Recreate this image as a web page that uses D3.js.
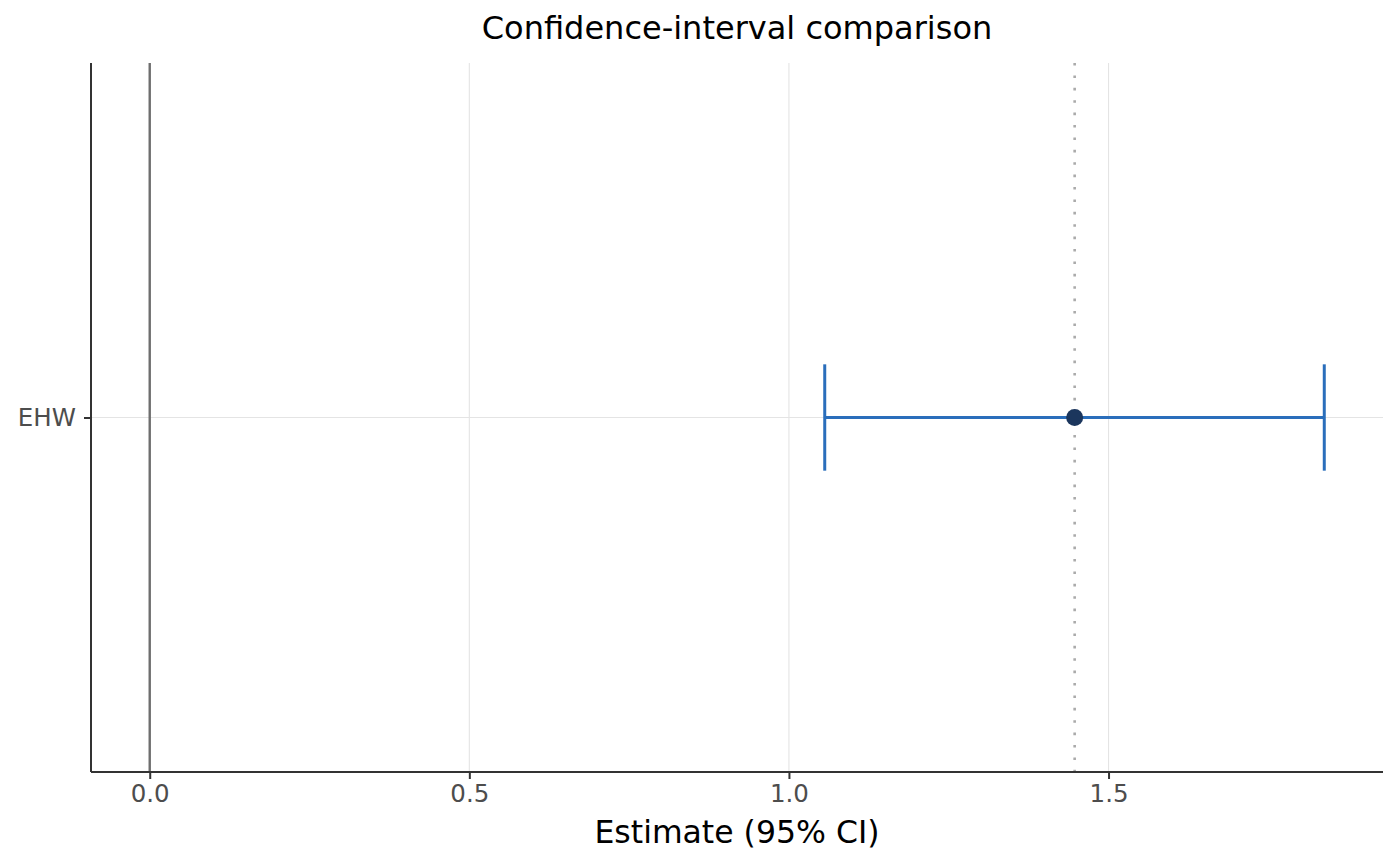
<!DOCTYPE html>
<html><head><meta charset="utf-8">
<script src="https://cdn.jsdelivr.net/npm/d3@7"></script>
<style>body{margin:0;background:#fff}text{font-family:"DejaVu Sans",sans-serif}</style>
</head><body><svg id="c" width="1400" height="866"></svg>
<script>
const methods = ["EHW"];
const estimates = [1.447];
const lower = [1.056];
const upper = [1.8375];
const refValue = 1.447;
const xTicks = [0, 0.5, 1.0, 1.5];
const titleText = "Confidence-interval comparison";
const xLabel = "Estimate (95% CI)";

const W = 1400, H = 866;
const m = {l:91, r:17, t:63, b:94};
const svg = d3.select("#c");
const lo = Math.min(0, d3.min(lower)), hi = Math.max(0, d3.max(upper));
const pad = (hi - lo) * 0.05;
const x = d3.scaleLinear().domain([lo - pad, hi + pad]).range([m.l, W - m.r]);
const y = d3.scalePoint().domain(methods).range([m.t, H - m.b]).padding(0.5);
const unit = (H - m.b - m.t) / (methods.length + 0.2);

svg.append("g").selectAll("line").data(xTicks).join("line")
  .attr("x1", d => x(d)).attr("x2", d => x(d)).attr("y1", m.t).attr("y2", H - m.b)
  .attr("stroke", "#e4e4e4").attr("stroke-width", 1.1);
svg.append("g").selectAll("line").data(methods).join("line")
  .attr("x1", m.l).attr("x2", W - m.r).attr("y1", d => y(d)).attr("y2", d => y(d))
  .attr("stroke", "#e4e4e4").attr("stroke-width", 1.1);

svg.append("line").attr("x1", x(0)).attr("x2", x(0)).attr("y1", m.t).attr("y2", H - m.b)
  .attr("stroke", "#6e6e6e").attr("stroke-width", 2.4);

svg.append("line").attr("x1", x(refValue)).attr("x2", x(refValue)).attr("y1", m.t).attr("y2", H - m.b)
  .attr("stroke", "#aaaaaa").attr("stroke-width", 2.6).attr("stroke-dasharray", "2.6 9.8");

const xAxis = d3.axisBottom(x).tickValues(xTicks).tickFormat(d3.format(".1f")).tickSize(7).tickPadding(6);
const gx = svg.append("g").attr("transform", `translate(0,${H - m.b})`).call(xAxis);
gx.select(".domain").attr("stroke", "#333").attr("stroke-width", 2).attr("d", `M${m.l},0H${W - m.r}`);
gx.selectAll(".tick line").attr("stroke", "#333").attr("stroke-width", 2);
gx.selectAll(".tick text").attr("fill", "#4d4d4d").attr("font-size", 24.5).attr("font-family", "DejaVu Sans");

const yAxis = d3.axisLeft(y).tickSize(7).tickPadding(8);
const gy = svg.append("g").attr("transform", `translate(${m.l},0)`).call(yAxis);
gy.select(".domain").attr("stroke", "#333").attr("stroke-width", 2).attr("d", `M0,${m.t}V${H - m.b}`);
gy.selectAll(".tick line").attr("stroke", "#333").attr("stroke-width", 2);
gy.selectAll(".tick text").attr("fill", "#4d4d4d").attr("font-size", 24.5).attr("font-family", "DejaVu Sans");

const half = unit * 0.09;
const g = svg.append("g");
methods.forEach((mth, i) => {
  const cy = y(mth);
  g.append("line").attr("x1", x(lower[i])).attr("x2", x(upper[i])).attr("y1", cy).attr("y2", cy)
    .attr("stroke", "#2a6ebb").attr("stroke-width", 3);
  [lower[i], upper[i]].forEach(v => {
    g.append("line").attr("x1", x(v)).attr("x2", x(v)).attr("y1", cy - half).attr("y2", cy + half)
      .attr("stroke", "#2a6ebb").attr("stroke-width", 3);
  });
  g.append("circle").attr("cx", x(estimates[i])).attr("cy", cy).attr("r", 8.5).attr("fill", "#1b365d");
});

svg.append("text").attr("x", (m.l + W - m.r) / 2).attr("y", 39).attr("text-anchor", "middle")
  .attr("font-size", 32).attr("fill", "#000").text(titleText);
svg.append("text").attr("x", (m.l + W - m.r) / 2).attr("y", 843).attr("text-anchor", "middle")
  .attr("font-size", 31.5).attr("fill", "#000").text(xLabel);
</script></body></html>
